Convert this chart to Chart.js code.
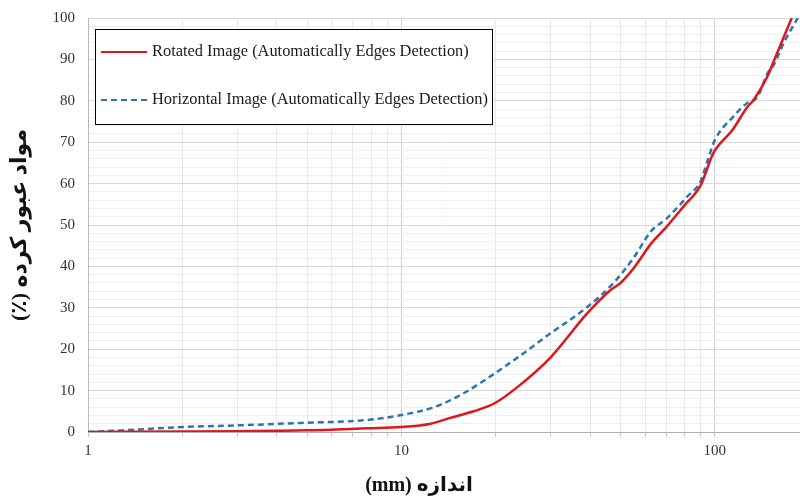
<!DOCTYPE html>
<html>
<head>
<meta charset="utf-8">
<script src="https://cdn.jsdelivr.net/npm/chart.js@4/dist/chart.umd.min.js"></script>
<style>
  html, body { margin: 0; padding: 0; background: #ffffff; }
  #wrap { position: relative; width: 800px; height: 499px; }
</style>
</head>
<body>
<div id="wrap"><canvas id="c" width="800" height="499"></canvas></div>
<script>
// ---- data ----
const seriesNames = [
  'Rotated Image (Automatically Edges Detection)',
  'Horizontal Image (Automatically Edges Detection)'
];
const sizesRotated = [1, 2, 3, 5, 7.8, 10, 12.4, 14.3, 17, 19.9, 23.5, 30, 39.2, 46.5, 50, 55, 62.6, 70, 79.5, 90, 99, 114, 127, 133, 147, 155, 176];
const passRotated  = [0, 0.1, 0.2, 0.4, 0.9, 1.2, 2, 3.4, 5, 7, 10.9, 18.1, 28.7, 34.3, 36, 39.5, 45.5, 49.5, 54.5, 59.5, 67.4, 73, 78.5, 80.2, 85.8, 90, 100];
const sizesHorizontal = [1, 1.3, 2, 3, 4.8, 7.8, 10, 12.7, 15.5, 19.9, 23, 30, 39.2, 47.5, 55, 62.6, 70, 82, 90, 95, 100, 114, 127, 137, 147, 155, 166, 184];
const passHorizontal  = [0, 0.4, 1.2, 1.6, 2.2, 2.9, 4.1, 6, 9, 14.2, 17.5, 23.9, 30.2, 36, 42, 48.5, 51.5, 57, 60.5, 65.7, 70.5, 76, 79.5, 81, 86.5, 89, 94, 100];
const xTickValues = [1, 2, 3, 4, 5, 6, 7, 8, 9, 10, 20, 30, 40, 50, 60, 70, 80, 90, 100];
const xLabelValues = [1, 10, 100];
const yMin = 0, yMax = 100, yMinorStep = 2, yLabelStep = 10;
const xMin = 1, xMax = 187;
const xTitle = '\u202Bاندازه (mm)\u202C';
const yTitle = '\u202Bمواد عبور کرده (٪)\u202C';

const toPoints = (xs, ys) => xs.map((x, i) => ({x: x, y: ys[i]}));

const serif = "'Liberation Serif', 'Times New Roman', serif";
const titleFamily = "'Liberation Serif', 'DejaVu Sans', serif";

const legendBox = {
  id: 'legendBox',
  afterDraw(chart) {
    const ctx = chart.ctx;
    const x0 = 95, y0 = 29, w = 397, h = 95;
    ctx.save();
    ctx.fillStyle = '#ffffff';
    ctx.fillRect(x0, y0, w, h);
    ctx.strokeStyle = '#000000';
    ctx.lineWidth = 1;
    ctx.strokeRect(x0 + 0.5, y0 + 0.5, w, h);
    const rows = [52, 100];
    chart.data.datasets.forEach((ds, i) => {
      const y = rows[i];
      ctx.beginPath();
      ctx.strokeStyle = ds.borderColor;
      ctx.lineWidth = 2;
      ctx.setLineDash(ds.borderDash || []);
      ctx.moveTo(101, y);
      ctx.lineTo(147, y);
      ctx.stroke();
      ctx.setLineDash([]);
      ctx.fillStyle = '#1a1a1a';
      ctx.font = '16.4px ' + serif;
      ctx.textBaseline = 'middle';
      ctx.textAlign = 'left';
      ctx.fillText(ds.label, 152, y);
    });
    ctx.restore();
  }
};

new Chart(document.getElementById('c'), {
  type: 'line',
  data: {
    datasets: [
      {
        label: seriesNames[0],
        data: toPoints(sizesRotated, passRotated),
        borderColor: '#e3151c',
        borderWidth: 2.5,
        pointRadius: 0,
        cubicInterpolationMode: 'monotone',
        fill: false
      },
      {
        label: seriesNames[1],
        data: toPoints(sizesHorizontal, passHorizontal),
        borderColor: '#2b76ad',
        borderWidth: 2.5,
        borderDash: [6, 4],
        pointRadius: 0,
        cubicInterpolationMode: 'monotone',
        fill: false
      }
    ]
  },
  options: {
    responsive: false,
    animation: false,
    devicePixelRatio: 1,
    layout: { padding: { top: 18, right: 0, left: 0, bottom: 0 } },
    plugins: {
      legend: { display: false },
      tooltip: { enabled: false }
    },
    scales: {
      x: {
        type: 'logarithmic',
        min: xMin,
        max: xMax,
        afterBuildTicks(scale) {
          scale.ticks = xTickValues.map(v => ({ value: v, major: xLabelValues.includes(v) }));
        },
        afterFit(scale) { scale.height = 67; scale.paddingLeft = 0; scale.paddingRight = 0; },
        ticks: {
          autoSkip: false,
          maxRotation: 0,
          padding: 5,
          color: '#333333',
          font: { family: serif, size: 15 },
          callback(value) { return xLabelValues.includes(value) ? String(value) : ''; }
        },
        grid: {
          color(ctx) { return ctx.tick && xLabelValues.includes(ctx.tick.value) ? '#cfcfcf' : '#e8e8e8'; },
          tickColor: '#c8c8c8',
          tickLength: 5,
          lineWidth: 1
        },
        border: { color: '#b0b0b0', width: 1 },
        title: {
          display: true,
          text: xTitle + '\u00A0'.repeat(10),
          color: '#111111',
          font: { family: titleFamily, size: 20, weight: 'bold' },
          padding: { top: 0, bottom: 1 }
        }
      },
      y: {
        type: 'linear',
        min: yMin,
        max: yMax,
        afterFit(scale) { scale.width = 88; scale.paddingTop = 0; scale.paddingBottom = 0; },
        ticks: {
          stepSize: yMinorStep,
          autoSkip: false,
          padding: 13,
          color: '#333333',
          font: { family: serif, size: 15 },
          callback(value) { return value % yLabelStep === 0 ? String(value) : ''; }
        },
        grid: {
          color(ctx) { return ctx.tick && ctx.tick.value % yLabelStep === 0 ? '#d9d9d9' : '#efefef'; },
          drawTicks: false,
          lineWidth: 1
        },
        border: { color: '#b8b8b8', width: 1 },
        title: {
          display: true,
          text: yTitle,
          color: '#111111',
          font: { family: titleFamily, size: 22, weight: 'bold' },
          padding: { top: 7, bottom: 0 }
        }
      }
    }
  },
  plugins: [legendBox]
});
</script>
</body>
</html>
